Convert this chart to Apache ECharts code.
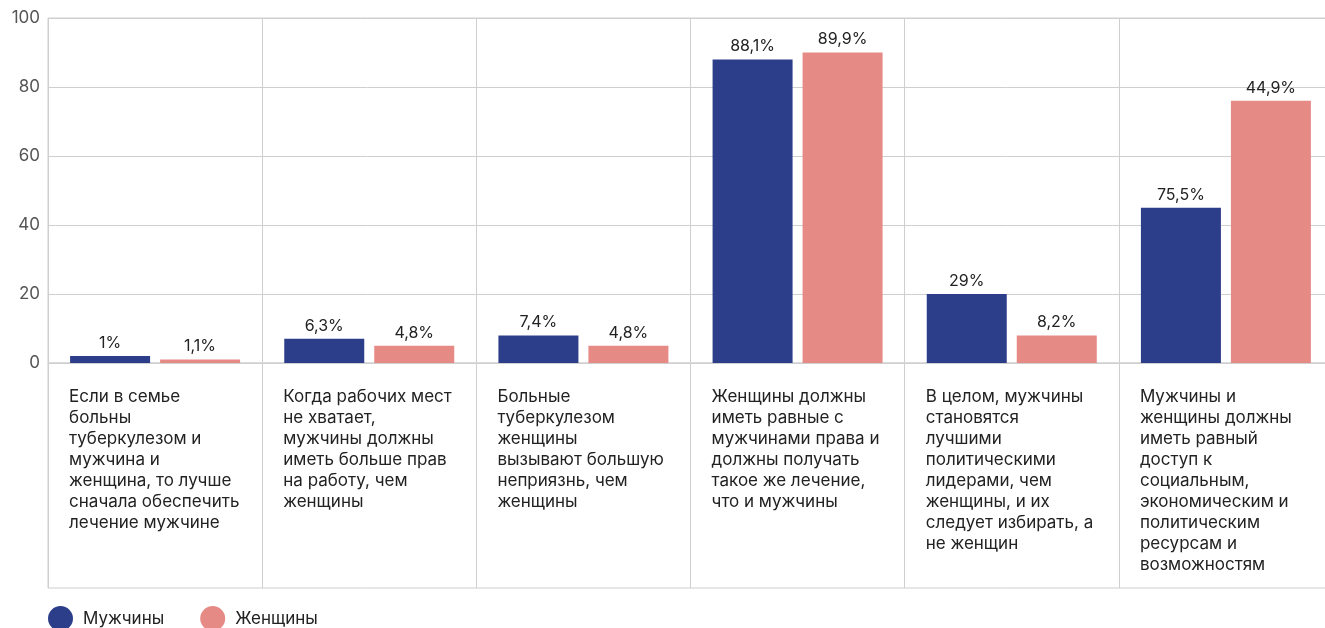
<!DOCTYPE html>
<html>
<head>
<meta charset="utf-8">
<script src="https://cdn.jsdelivr.net/npm/echarts@6/dist/echarts.min.js"></script>
<style>
  html, body { margin: 0; padding: 0; background: #fff; }
  #chart { width: 1325px; height: 628px; }
</style>
</head>
<body>
<div id="chart"></div>
<script>
// categories (line breaks as in the picture)
const categories = [
    'Если в семье\nбольны\nтуберкулезом и\nмужчина и\nженщина, то лучше\nсначала обеспечить\nлечение мужчине',
    'Когда рабочих мест\nне хватает,\nмужчины должны\nиметь больше прав\nна работу, чем\nженщины',
    'Больные\nтуберкулезом\nженщины\nвызывают большую\nнеприязнь, чем\nженщины',
    'Женщины должны\nиметь равные с\nмужчинами права и\nдолжны получать\nтакое же лечение,\nчто и мужчины',
    'В целом, мужчины\nстановятся\nлучшими\nполитическими\nлидерами, чем\nженщины, и их\nследует избирать, а\nне женщин',
    'Мужчины и\nженщины должны\nиметь равный\nдоступ к\nсоциальным,\nэкономическим и\nполитическим\nресурсам и\nвозможностям'
];

// bar heights as drawn
const menValues = [2, 7, 8, 88, 20, 45];
const womenValues = [1, 5, 5, 90, 8, 76];

// labels printed above the bars
const menLabels = ['1%', '6,3%', '7,4%', '88,1%', '29%', '75,5%'];
const womenLabels = ['1,1%', '4,8%', '4,8%', '89,9%', '8,2%', '44,9%'];

const gridColor = '#cfcfcf';
const font = 'Inter, "Noto Sans", sans-serif';

const chart = echarts.init(document.getElementById('chart'));

chart.setOption({
    animation: false,
    textStyle: { fontFamily: font },
    legend: {
        left: 43,
        top: 601,
        icon: 'circle',
        itemWidth: 25,
        itemHeight: 25,
        itemGap: 36,
        textStyle: { fontSize: 17, color: '#222', padding: [0, 0, 0, 5] },
        data: ['Мужчины', 'Женщины']
    },
    grid: [
        { left: 48, top: 18, width: 1285, height: 345, outerBoundsMode: 'none', show: true, borderColor: gridColor, borderWidth: 1 },
        { left: 48, top: 363, width: 1285, height: 225, outerBoundsMode: 'none', show: true, borderColor: gridColor, borderWidth: 1 }
    ],
    xAxis: [
        {
            type: 'category',
            gridIndex: 0,
            data: categories,
            axisLine: { show: true, lineStyle: { color: gridColor } },
            axisTick: { show: false },
            splitLine: { show: true, lineStyle: { color: gridColor } },
            axisLabel: {
                interval: 0,
                margin: 23,
                verticalAlign: 'top',
                formatter: v => v.split('\n').map(l => '{a|' + l + '}').join('\n'),
                rich: {
                    a: { width: 172, align: 'left', fontSize: 17, lineHeight: 21, color: '#222', fontFamily: font }
                }
            }
        },
        {
            type: 'category',
            gridIndex: 1,
            data: categories,
            axisLine: { show: false },
            axisTick: { show: false },
            axisLabel: { show: false },
            splitLine: { show: true, lineStyle: { color: gridColor } }
        }
    ],
    yAxis: [
        {
            type: 'value',
            gridIndex: 0,
            min: 0,
            max: 100,
            interval: 20,
            axisLine: { show: false },
            axisTick: { show: false },
            axisLabel: { fontSize: 17, color: '#555', margin: 8 },
            splitLine: { lineStyle: { color: gridColor } }
        },
        {
            type: 'value',
            gridIndex: 1,
            show: false,
            splitLine: { show: false }
        }
    ],
    series: [
        {
            name: 'Мужчины',
            type: 'bar',
            barWidth: 80,
            barGap: '12.5%',
            itemStyle: { color: '#2c3e8a' },
            label: {
                show: true,
                position: 'top',
                distance: 5,
                fontSize: 16,
                color: '#222',
                formatter: p => menLabels[p.dataIndex]
            },
            data: menValues
        },
        {
            name: 'Женщины',
            type: 'bar',
            barWidth: 80,
            itemStyle: { color: '#e68a86' },
            label: {
                show: true,
                position: 'top',
                distance: 5,
                fontSize: 16,
                color: '#222',
                formatter: p => womenLabels[p.dataIndex]
            },
            data: womenValues
        }
    ]
});
</script>
</body>
</html>
